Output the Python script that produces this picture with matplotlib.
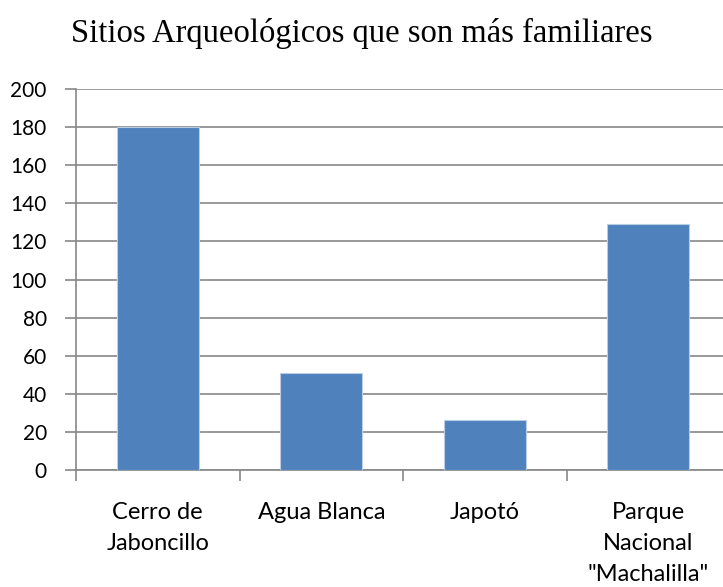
import matplotlib
matplotlib.use("Agg")
import matplotlib.pyplot as plt

categories = ["Cerro de\nJaboncillo", "Agua Blanca", "Japotó", "Parque\nNacional\n\"Machalilla\""]
values = [180, 51, 26, 129]
yticks = [0, 20, 40, 60, 80, 100, 120, 140, 160, 180, 200]

fig = plt.figure(figsize=(7.23, 5.87), dpi=100)
ax = fig.add_axes([76 / 723, 1 - 470 / 587, 654 / 723, 381 / 587])

ax.bar(range(len(values)), values, width=0.5, color="#4F81BD",
       edgecolor="#B9CDE5", linewidth=0.8, zorder=3)

ax.set_xlim(-0.5, len(values) - 0.5)
ax.set_ylim(0, 200)
ax.set_yticks(yticks)
ax.yaxis.grid(True, color="#878787", linewidth=1.2, zorder=0)

# category labels centred, ticks between categories
ax.set_xticks(range(len(values)))
ax.set_xticklabels(categories, family="Lato", fontsize=17, linespacing=1.58, va="top")
ax.tick_params(axis="x", length=0, pad=23)
ax.set_xticks([i - 0.5 for i in range(len(values) + 1)], minor=True)
ax.tick_params(axis="x", which="minor", length=8, width=1.2, color="#878787", direction="out")
ax.tick_params(axis="y", length=8, width=1.2, color="#878787", direction="out", pad=13)
for lbl in ax.get_yticklabels():
    lbl.set_family("Lato")
    lbl.set_fontsize(15)

for side in ["top", "right"]:
    ax.spines[side].set_visible(False)
for side in ["left", "bottom"]:
    ax.spines[side].set_color("#878787")
    ax.spines[side].set_linewidth(1.2)

fig.text(0.5, 1 - 33 / 587, "Sitios Arqueológicos que son más familiares",
         ha="center", va="center", family="Liberation Serif", fontsize=23.5)

fig.savefig("out.png", dpi=100)
